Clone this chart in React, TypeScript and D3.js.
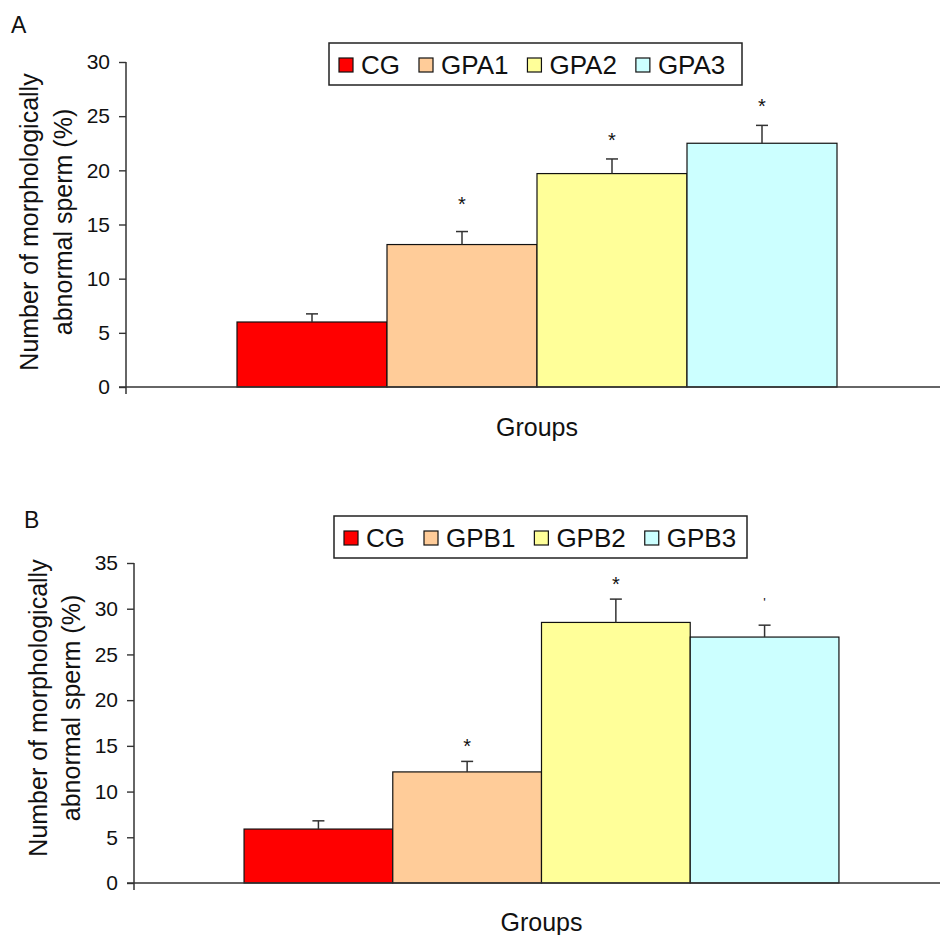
import React, { useEffect, useRef } from "react";
import * as d3 from "d3";

const seriesA = ["CG", "GPA1", "GPA2", "GPA3"];
const valuesA = [6.0, 13.15, 19.7, 22.5];
const errorsA = [0.75, 1.2, 1.35, 1.65];
const starsA = ["", "*", "*", "*"];
const starLevelA = [0, 17.3, 23.2, 26.3];
const ticksA = [0, 5, 10, 15, 20, 25, 30];

const seriesB = ["CG", "GPB1", "GPB2", "GPB3"];
const valuesB = [5.9, 12.15, 28.5, 26.9];
const errorsB = [0.9, 1.15, 2.55, 1.3];
const starsB = ["", "*", "*", "'"];
const starLevelB = [0, 15.45, 33.15, 30.8];
const ticksB = [0, 5, 10, 15, 20, 25, 30, 35];

const colors = ["#FF0000", "#FFCC99", "#FFFF99", "#CCFFFF"];
const categoryLabel = "Groups";
const yTitle = ["Number of morphologically", "abnormal sperm (%)"];

const FONT = "'Liberation Sans', Arial, sans-serif";

type Panel = {
  label: string;
  labelPos: [number, number];
  series: string[];
  values: number[];
  errors: number[];
  stars: string[];
  starLevel: number[];
  ticks: number[];
  yMax: number;
  plot: { left: number; right: number; top: number; bottom: number };
  legend: { x: number; y: number; w: number; h: number };
  titleX: [number, number];
  titleY: number;
  groupsY: number;
};

const panels: Panel[] = [
  {
    label: "A",
    labelPos: [11, 33],
    series: seriesA,
    values: valuesA,
    errors: errorsA,
    stars: starsA,
    starLevel: starLevelA,
    ticks: ticksA,
    yMax: 30,
    plot: { left: 126, right: 948, top: 62, bottom: 387 },
    legend: { x: 329, y: 43, w: 413, h: 42 },
    titleX: [38, 72],
    titleY: 222,
    groupsY: 436,
  },
  {
    label: "B",
    labelPos: [24, 528],
    series: seriesB,
    values: valuesB,
    errors: errorsB,
    stars: starsB,
    starLevel: starLevelB,
    ticks: ticksB,
    yMax: 35,
    plot: { left: 134, right: 949, top: 563, bottom: 883 },
    legend: { x: 334, y: 516, w: 413, h: 42 },
    titleX: [47, 80],
    titleY: 708,
    groupsY: 931,
  },
];

export default function App() {
  const ref = useRef<SVGSVGElement | null>(null);

  useEffect(() => {
    const svg = d3.select(ref.current);
    svg.selectAll("*").remove();
    svg.append("rect").attr("width", 940).attr("height", 935).attr("fill", "#fff");

    panels.forEach((p) => {
      const g = svg.append("g");
      const y = d3.scaleLinear().domain([0, p.yMax]).range([p.plot.bottom, p.plot.top]);
      const xCat = d3
        .scaleBand<string>()
        .domain([categoryLabel])
        .range([p.plot.left, p.plot.right])
        .paddingOuter(0.185)
        .paddingInner(0);
      const x = d3
        .scaleBand<string>()
        .domain(p.series)
        .range([xCat(categoryLabel)!, xCat(categoryLabel)! + xCat.bandwidth()])
        .padding(0);

      g.append("text")
        .attr("x", p.labelPos[0])
        .attr("y", p.labelPos[1])
        .attr("font-family", FONT)
        .attr("font-size", 23)
        .attr("fill", "#111")
        .text(p.label);

      g.selectAll("rect.bar")
        .data(p.series)
        .enter()
        .append("rect")
        .attr("x", (d) => x(d)!)
        .attr("y", (d, i) => y(p.values[i]))
        .attr("width", x.bandwidth())
        .attr("height", (d, i) => y(0) - y(p.values[i]))
        .attr("fill", (d, i) => colors[i])
        .attr("stroke", "#111")
        .attr("stroke-width", 1.2);

      p.series.forEach((s, i) => {
        const cx = x(s)! + x.bandwidth() / 2;
        const top = y(p.values[i] + p.errors[i]);
        g.append("line")
          .attr("x1", cx)
          .attr("x2", cx)
          .attr("y1", y(p.values[i]))
          .attr("y2", top)
          .attr("stroke", "#333")
          .attr("stroke-width", 1.5);
        g.append("line")
          .attr("x1", cx - 6)
          .attr("x2", cx + 6)
          .attr("y1", top)
          .attr("y2", top)
          .attr("stroke", "#333")
          .attr("stroke-width", 1.5);
        if (p.stars[i]) {
          const isStar = p.stars[i] === "*";
          g.append("text")
            .attr("x", cx)
            .attr("y", y(p.starLevel[i]) + (isStar ? 11 : 6))
            .attr("text-anchor", "middle")
            .attr("font-family", FONT)
            .attr("font-size", isStar ? 20 : 13)
            .attr("fill", "#111")
            .text(p.stars[i]);
        }
      });

      const yAxis = d3
        .axisLeft(y)
        .tickValues(p.ticks)
        .tickSize(7)
        .tickPadding(9)
        .tickFormat((d) => String(d));
      const ya = g.append("g").attr("transform", `translate(${p.plot.left},0)`).call(yAxis);
      ya.select(".domain").remove();
      ya.selectAll("line").attr("stroke", "#333").attr("stroke-width", 1.4);
      ya.selectAll("text")
        .attr("font-family", FONT)
        .attr("font-size", 21)
        .attr("fill", "#111");
      g.append("line")
        .attr("x1", p.plot.left)
        .attr("x2", p.plot.left)
        .attr("y1", p.plot.top)
        .attr("y2", p.plot.bottom + 7)
        .attr("stroke", "#333")
        .attr("stroke-width", 1.5);
      g.append("line")
        .attr("x1", p.plot.left - 7)
        .attr("x2", 940)
        .attr("y1", y(0))
        .attr("y2", y(0))
        .attr("stroke", "#333")
        .attr("stroke-width", 1.5);

      yTitle.forEach((t, k) => {
        g.append("text")
          .attr("transform", `translate(${p.titleX[k]},${p.titleY}) rotate(-90)`)
          .attr("text-anchor", "middle")
          .attr("font-family", FONT)
          .attr("font-size", 25)
          .attr("fill", "#111")
          .text(t);
      });

      g.append("text")
        .attr("x", xCat(categoryLabel)! + xCat.bandwidth() / 2)
        .attr("y", p.groupsY)
        .attr("text-anchor", "middle")
        .attr("font-family", FONT)
        .attr("font-size", 25)
        .attr("fill", "#111")
        .text(categoryLabel);

      const L = p.legend;
      g.append("rect")
        .attr("x", L.x)
        .attr("y", L.y)
        .attr("width", L.w)
        .attr("height", L.h)
        .attr("fill", "#fff")
        .attr("stroke", "#222")
        .attr("stroke-width", 1.5);
      let cx = L.x + 10;
      p.series.forEach((s, i) => {
        g.append("rect")
          .attr("x", cx)
          .attr("y", L.y + 15)
          .attr("width", 14)
          .attr("height", 14)
          .attr("fill", colors[i])
          .attr("stroke", "#111")
          .attr("stroke-width", 1.2);
        const t = g
          .append("text")
          .attr("x", cx + 22)
          .attr("y", L.y + 31)
          .attr("font-family", FONT)
          .attr("font-size", 26)
          .attr("fill", "#111")
          .text(s);
        const w = (t.node() as SVGTextElement).getComputedTextLength();
        cx = cx + 22 + w + 19;
      });
    });
  }, []);

  return (
    <svg
      ref={ref}
      width={940}
      height={935}
      style={{ position: "absolute", left: 0, top: 0, display: "block" }}
    />
  );
}
